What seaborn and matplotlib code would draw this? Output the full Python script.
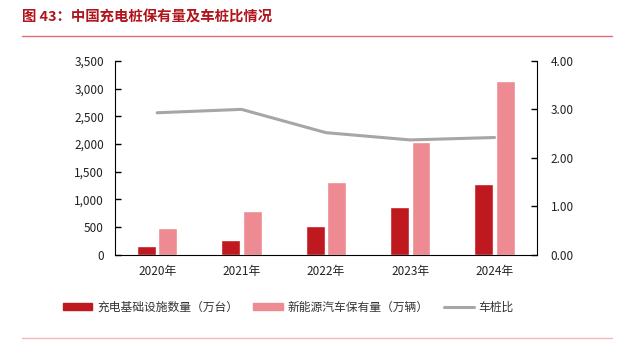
import numpy as np
import pandas as pd
import matplotlib.pyplot as plt
import seaborn as sns
from matplotlib.patches import Patch
from matplotlib.lines import Line2D

years = ["2020年", "2021年", "2022年", "2023年", "2024年"]
chargers = [168, 262, 521, 860, 1282]        # 充电基础设施数量（万台）
nev_stock = [492, 784, 1310, 2041, 3140]     # 新能源汽车保有量（万辆）
ratio = [2.93, 3.00, 2.52, 2.37, 2.42]       # 车桩比

s1 = "充电基础设施数量（万台）"
s2 = "新能源汽车保有量（万辆）"
s3 = "车桩比"

sns.set_style("white")
plt.rcParams["font.family"] = ["Noto Sans CJK SC", "DejaVu Sans"]

df = pd.DataFrame({
    "year": years * 2,
    "value": chargers + nev_stock,
    "series": [s1] * len(years) + [s2] * len(years),
})

fig = plt.figure(figsize=(6.39, 3.58), dpi=100)
ax = fig.add_axes([0.180, 0.288, 0.660, 0.542])

sns.barplot(data=df, x="year", y="value", hue="series", ax=ax,
            palette=["#C0181F", "#EE8A91"], width=0.51, gap=0.12,
            saturation=1, legend=False)
ax.set_ylim(0, 3500)
ax.set_yticks(np.arange(0, 3501, 500))
ax.set_yticklabels([f"{v:,}" for v in range(0, 3501, 500)])
ax.set_xlim(-0.5, len(years) - 0.5)
ax.set_xlabel("")
ax.set_ylabel("")

ax2 = ax.twinx()
sns.lineplot(x=np.arange(len(years)), y=ratio, ax=ax2, color="#A6A6A6",
             linewidth=2.2)
ax2.set_ylim(0, 4)
ax2.set_yticks([0, 1, 2, 3, 4])
ax2.set_yticklabels([f"{v:.2f}" for v in [0, 1, 2, 3, 4]])

for a in (ax, ax2):
    a.spines["top"].set_visible(False)
    a.tick_params(axis="y", direction="in", length=4, width=1, colors="black",
                  labelsize=8.5, labelcolor="#222222")
    a.tick_params(axis="x", length=0, labelsize=8.5, labelcolor="#222222")
ax.spines["right"].set_visible(False)
ax2.spines["left"].set_visible(False)
ax2.spines["bottom"].set_visible(False)
ax.spines["left"].set_color("black")
ax.spines["bottom"].set_color("black")
ax2.spines["right"].set_color("black")
ax.tick_params(axis="y", pad=8)
ax2.tick_params(axis="y", pad=10)
ax.tick_params(axis="x", pad=7)

handles = [Patch(color="#C0181F"), Patch(color="#EE8A91"),
           Line2D([0], [0], color="#A6A6A6", linewidth=2.2)]
fig.legend(handles, [s1, s2, s3], loc="center", bbox_to_anchor=(0.451, 0.142),
           ncol=3, frameon=False, fontsize=8.5, handlelength=2.5,
           handleheight=0.6, columnspacing=1.3, handletextpad=0.4,
           labelcolor="#333333")

fig.text(0.034, 0.952, "图 43：中国充电桩保有量及车桩比情况", fontsize=10.4,
         fontweight="bold", color="#B0151C", va="center", ha="left")
fig.add_artist(Line2D([0.034, 0.958], [0.899, 0.899], color="#E36C74",
                      linewidth=1, transform=fig.transFigure))
fig.add_artist(Line2D([0.034, 0.958], [0.056, 0.056], color="#F4B6BA",
                      linewidth=1, transform=fig.transFigure))

fig.savefig("out.png", dpi=100)
